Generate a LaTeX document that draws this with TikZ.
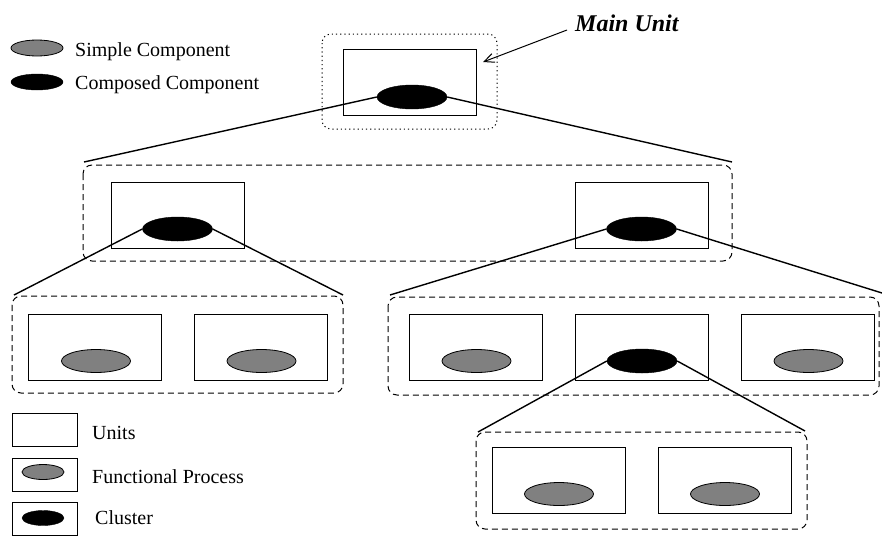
\documentclass[tikz,border=0pt]{standalone}
\usepackage{fontspec}
\setmainfont{Liberation Serif}
\usetikzlibrary{shapes.geometric,arrows.meta}

\begin{document}
\begin{tikzpicture}[x=1pt,y=-1pt,
  unit/.style={draw, rectangle, inner sep=0, minimum width=133pt, minimum height=66pt, line width=0.9pt},
  simple/.style={draw, ellipse, fill=gray, inner sep=0, minimum width=69pt, minimum height=23pt, line width=0.8pt},
  composed/.style={draw, ellipse, fill=black, inner sep=0, minimum width=70pt, minimum height=24pt},
  group/.style={draw, rounded corners=9pt, dash pattern=on 6pt off 4pt, line width=1pt},
  mainbox/.style={draw, rounded corners=9pt, dash pattern=on 1.2pt off 3pt, line width=1pt},
  link/.style={line width=1.4pt},
  lbl/.style={anchor=base west, inner sep=0, font=\fontsize{20}{24}\selectfont}]

\useasboundingbox (0,0) rectangle (882,536);

\def \dy {14} % ellipse sits below unit centre

% legend
\node[draw, ellipse, fill=gray, inner sep=0, minimum width=52pt, minimum height=16pt, line width=0.8pt] (lsimple) at (37,48) {};
\node[draw, ellipse, fill=black, inner sep=0, minimum width=52pt, minimum height=16pt] (lcomposed) at (37,82) {};
\node[lbl] (tsimple) at (75,56) {Simple Component};
\node[lbl] (tcomposed) at (75,89) {Composed Component};

\node[draw, rectangle, inner sep=0, minimum width=65pt, minimum height=33pt, line width=0.9pt] (lunit) at (44.5,429.5) {};
\node[draw, rectangle, inner sep=0, minimum width=65pt, minimum height=33pt, line width=0.9pt] (lfp) at (44.5,474.5) {};
\node[draw, rectangle, inner sep=0, minimum width=65pt, minimum height=33pt, line width=0.9pt] (lcl) at (44.5,519) {};
\node[draw, ellipse, fill=gray, inner sep=0, minimum width=42pt, minimum height=15pt, line width=0.8pt] (lfpe) at (43,472) {};
\node[draw, ellipse, fill=black, inner sep=0, minimum width=42pt, minimum height=15pt] (lcle) at (43,518) {};
\node[lbl] (tunit) at (92,439) {Units};
\node[lbl] (tfp) at (92,483) {Functional Process};
\node[lbl] (tcl) at (95,524) {Cluster};

% groups
\draw[mainbox] (322,34) rectangle (497,129);
\draw[group] (83,165) rectangle (732,261);
\draw[group] (12,296) rectangle (343,393);
\draw[group] (388,297) rectangle (879,395);
\draw[group] (476,432) rectangle (807,529);

% main unit
\node[unit] (main) at (409.5,82) {};
\node[composed] (mainc) at (412,97) {};

% level 2
\foreach \x/\n in {177.5/a, 641.5/b}
{
  \node[unit] (u\n) at (\x,215) {};
  \node[composed] (c\n) at (\x,215+\dy) {};
}

% level 3
\foreach \x/\n in {95/a, 260.5/b, 475.5/c, 807.5/e}
{
  \node[unit] (v\n) at (\x,347) {};
  \node[simple] (s\n) at (\x+1,347+\dy) {};
}
\node[unit] (vd) at (641.5,347) {};
\node[composed] (cd) at (642,347+\dy) {};

% level 4
\foreach \x/\n in {558.5/a, 724.5/b}
{
  \node[unit] (w\n) at (\x,480) {};
  \node[simple] (t\n) at (\x+0.5,480+\dy) {};
}

% links
\coordinate (m1) at (84,162);
\coordinate (m2) at (732,162);
\coordinate (a1) at (14,295);
\coordinate (a2) at (343,295);
\coordinate (b1) at (390,295);
\coordinate (b2) at (882,293);
\coordinate (d1) at (478,432);
\coordinate (d2) at (805,431);

\draw[link] (mainc.west) -- (m1);
\draw[link] (mainc.east) -- (m2);
\draw[link] (ca.west) -- (a1);
\draw[link] (ca.east) -- (a2);
\draw[link] (cb.west) -- (b1);
\draw[link] (cb.east) -- (b2);
\draw[link] (cd.west) -- (d1);
\draw[link] (cd.east) -- (d2);

% title
\node[anchor=base west, inner sep=0, font=\fontsize{24}{28}\selectfont\bfseries\itshape] (title) at (575,31) {Main Unit};
\coordinate (tip) at (483,62);
\draw[-{Straight Barb[length=10pt,width=9pt]}, line width=1pt] (title.base west)++(-8,-1) coordinate (from) -- (tip);

\end{tikzpicture}
\end{document}
